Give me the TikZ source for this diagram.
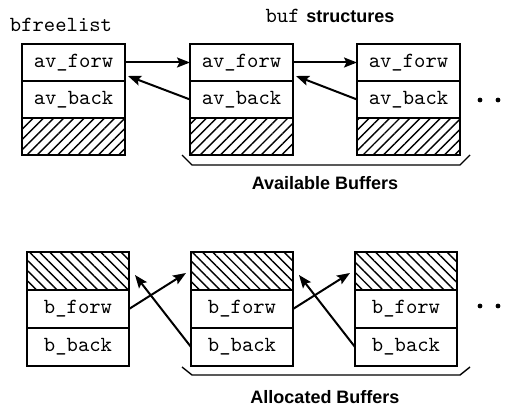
\documentclass[tikz,border=0pt]{standalone}
\usepackage{fontspec}
\setsansfont{Liberation Sans}
\usetikzlibrary{arrows.meta,calc,patterns.meta}

\begin{document}
\begin{tikzpicture}[x=0.5pt, y=-0.5pt,
    cell/.style={draw, line width=0.8pt, anchor=north west, inner sep=0pt, outer sep=0pt,
      minimum width=51.5pt, minimum height=18.5pt, font=\ttfamily\fontsize{10.8}{12}\selectfont},
    hatchne/.style={pattern={Lines[angle=45, distance=3.6pt, line width=0.7pt]}},
    hatchnw/.style={pattern={Lines[angle=-45, distance=3.6pt, line width=0.7pt]}},
    ptr/.style={line width=1pt, -{Stealth[length=6.5pt, width=5pt, inset=1.2pt]}},
    caption/.style={font=\sffamily\bfseries\fontsize{9}{11}\selectfont}]
  \useasboundingbox (0,0) rectangle (514,406);
  % free list: av_forw / av_back chain
  \node[font=\ttfamily\fontsize{10.8}{12}\selectfont] (fl) at (61,25) {bfreelist};
  \node (bs) at (330,16) {{\ttfamily\fontsize{10.8}{12}\selectfont buf} {\sffamily\bfseries\fontsize{9}{11}\selectfont structures}};
  \foreach \i/\x in {1/22, 2/190, 3/357} {
    \node[cell] (af\i) at (\x,44) {av\_forw};
    \node[cell] (ab\i) at (\x,81) {av\_back};
    \node[cell, hatchne] (ah\i) at (\x,118) {};
  }
  \foreach \i/\j in {1/2, 2/3} {
    \draw[ptr] (af\i.east) -- (af\j.west);
    \draw[ptr] (ab\j.west) -- ($(af\i.south east)+(3,-5)$);
  }
  \foreach \x in {480,498} \fill (\x,100) circle (1.2pt);
  \draw[line width=0.7pt] (182,155) -- (192,165) -- (460,165) -- (470,155);
  \node[caption] (avail) at (325,183) {Available Buffers};

  % allocated buffers: b_forw / b_back chain
  \foreach \i/\x in {1/27, 2/191, 3/355} {
    \node[cell, minimum width=51pt, minimum height=19pt, hatchnw] (bh\i) at (\x,252) {};
    \node[cell, minimum width=51pt, minimum height=19pt] (bf\i) at (\x,290) {b\_forw};
    \node[cell, minimum width=51pt, minimum height=19pt] (bb\i) at (\x,328) {b\_back};
  }
  \foreach \i/\j in {1/2, 2/3} {
    \draw[ptr] (bf\i.east) -- ($(bh\j.west)+(-5,2)$);
    \draw[ptr] (bb\j.west) -- ($(bh\i.east)+(6,4)$);
  }
  \foreach \x in {480,498} \fill (\x,306) circle (1.2pt);
  \draw[line width=0.7pt] (182,367) -- (192,375) -- (460,375) -- (470,367);
  \node[caption] (alloc) at (325,397) {Allocated Buffers};
\end{tikzpicture}
\end{document}
